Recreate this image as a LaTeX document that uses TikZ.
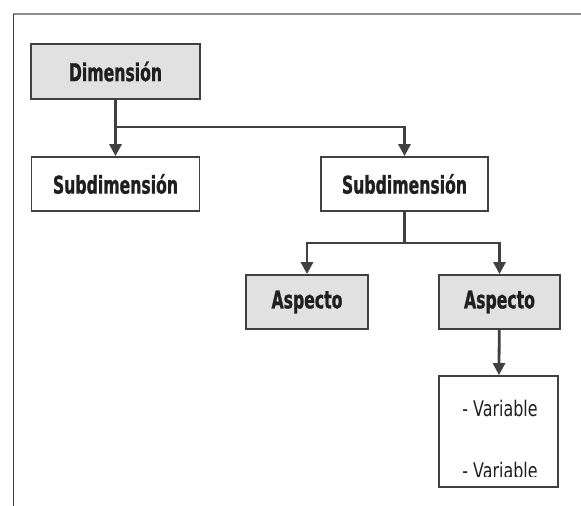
\documentclass[tikz,border=0pt]{standalone}
\usepackage{fontspec}
\newfontfamily\boxfont[FakeStretch=0.64,FakeBold=1]{DejaVu Sans}
\newfontfamily\varfont[FakeStretch=0.74]{DejaVu Sans}
\usetikzlibrary{arrows.meta}
\definecolor{linegray}{HTML}{404040}
\definecolor{boxgray}{HTML}{E1E1E1}
\definecolor{framegray}{HTML}{8C8C8C}
\begin{document}
\begin{tikzpicture}[x=1pt,y=-1pt,
  box/.style={draw=linegray,line width=1.8pt,fill=white,inner sep=0pt,minimum height=54pt,text=black!88,font=\boxfont\bfseries\fontsize{24.5}{28}\selectfont},
  graybox/.style={box,fill=boxgray},
  vartext/.style={inner sep=0pt,text=black!88,font=\varfont\fontsize{21.5}{25}\selectfont},
  conn/.style={draw=linegray,line width=2.8pt,-{Triangle[length=12pt,width=12pt]}}]
\useasboundingbox (0,0) rectangle (581,506);
\draw[framegray,line width=1.5pt] (13,14) -- (581,14);
\draw[linegray,line width=1.5pt] (13.5,14) -- (13.5,506);
\node[graybox,minimum width=169pt,minimum height=55pt] (dim) at (115.5,71.5) {Dimensi\'on};
\node[box,minimum width=168pt] (sub1) at (115.5,184) {Subdimensi\'on};
\node[box,minimum width=167pt] (sub2) at (404.5,184) {Subdimensi\'on};
\node[graybox,minimum width=122pt] (asp1) at (307,302) {Aspecto};
\node[graybox,minimum width=121pt] (asp2) at (499.5,302) {Aspecto};
\node[box,minimum width=119pt,minimum height=111pt] (var) at (498.5,431.5) {};
\begin{scope}
\clip (var.north west) rectangle ([yshift=11pt]var.south east);
\node[vartext,anchor=base] (var1) at (500,416) {- Variable};
\node[vartext,anchor=base] (var2) at (500,478) {- Variable};
\end{scope}
\coordinate (j1) at (115.5,127);
\coordinate (j2) at (404.5,243);
\draw[conn] (dim) -- (sub1);
\draw[conn] (j1) -| (sub2);
\draw[conn] (sub2) -- (j2) -| (asp1);
\draw[conn] (j2) -| (asp2);
\draw[conn] (asp2) -- (var);
\end{tikzpicture}
\end{document}
